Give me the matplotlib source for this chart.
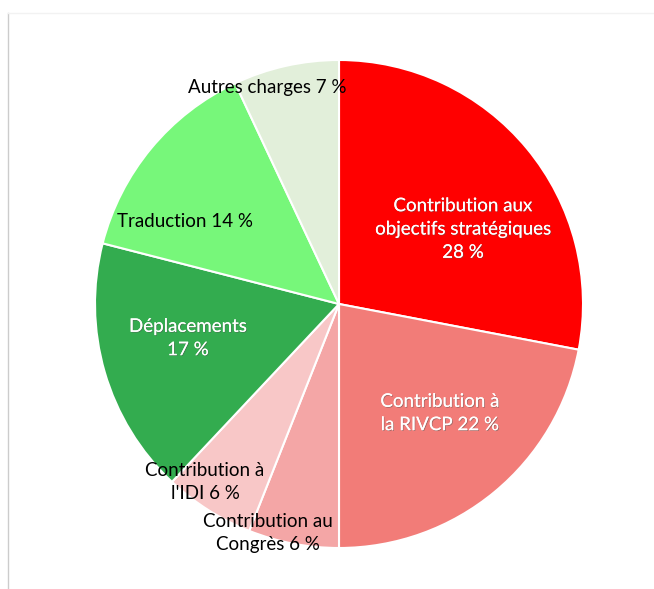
import matplotlib.pyplot as plt
import matplotlib.patheffects as pe
from matplotlib.lines import Line2D

# Données du graphique
postes = ['Contribution aux\nobjectifs stratégiques\n28 %', 'Contribution à\nla RIVCP 22 %',
          'Contribution au\nCongrès 6 %', "Contribution à\nl'IDI 6 %",
          'Déplacements\n17 %', 'Traduction 14 %', 'Autres charges 7 %']
parts = [28, 22, 6, 6, 17, 14, 7]
couleurs = ['#FF0000', '#F27C78', '#F4A6A6', '#F8C7C7', '#33AC4F', '#77F77A', '#E2EFDA']
couleurs_texte = ['white', 'white', 'black', 'black', 'white', 'black', 'black']
# positions des étiquettes (pixels de l'image)
pos_etiquettes = [(463, 229), (440, 413), (268, 533), (205, 482), (188, 338), (185, 222), (267, 87)]

W, H = 654, 589
cx, cy, r = 339, 304, 244

plt.rcParams['font.family'] = ['Lato', 'DejaVu Sans']
fig = plt.figure(figsize=(W / 100, H / 100), dpi=100)
ax = fig.add_axes([(cx - r) / W, (H - cy - r) / H, 2 * r / W, 2 * r / H])
ax.pie(parts, colors=couleurs, startangle=90, counterclock=False,
       wedgeprops=dict(edgecolor='white', linewidth=1.5))
ax.set_xlim(-1, 1)
ax.set_ylim(-1, 1)
ax.set_aspect('equal')
ax.axis('off')

for txt, (px, py), c in zip(postes, pos_etiquettes, couleurs_texte):
    effets = [pe.withSimplePatchShadow(offset=(0.6, -0.6), shadow_rgbFace='#555555', alpha=0.5), pe.Normal()] if c == 'white' else None
    ax.text((px - cx) / r, (cy - py) / r, txt, ha='center', va='center', color=c,
            fontsize=13.5, linespacing=1.45, path_effects=effets)

# cadre léger
fig.add_artist(Line2D([8 / W, 8 / W], [0, 1 - 13 / H], color='#CCCCCC', lw=1))
fig.add_artist(Line2D([8 / W, 1], [1 - 13 / H, 1 - 13 / H], color='#F2F2F2', lw=1))

fig.savefig('out.png', dpi=100)
